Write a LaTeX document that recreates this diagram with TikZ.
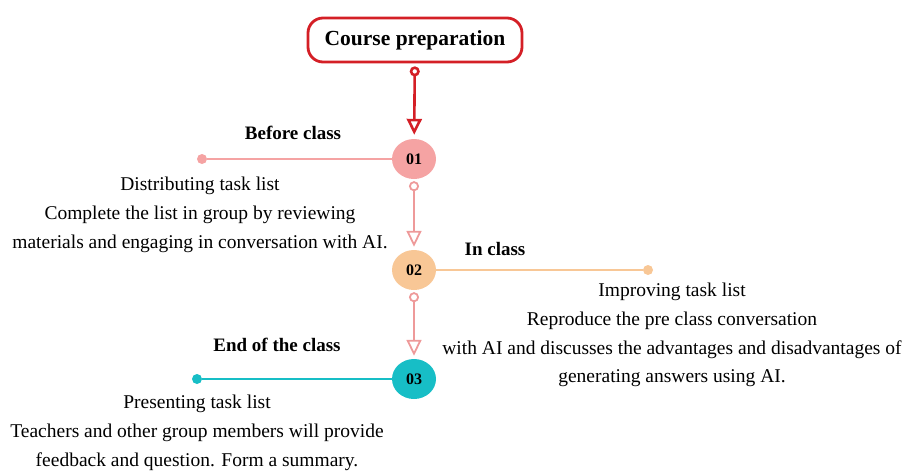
\documentclass[tikz,border=0pt]{standalone}
\usepackage{fontspec}
\setmainfont{Liberation Serif}
\usetikzlibrary{shapes, arrows.meta, positioning}

\definecolor{PrepRed}{HTML}{D41F26}
\definecolor{StepPink}{HTML}{F5A3A3}
\definecolor{LinePink}{HTML}{EE9A9A}
\definecolor{StepPeach}{HTML}{F8C796}
\definecolor{StepTeal}{HTML}{17BEC6}

\begin{document}
\begin{tikzpicture}[x=1pt,y=-1pt]
\tikzstyle{stepnode} = [ellipse, minimum width=44pt, minimum height=40pt, inner sep=0pt, font=\fontsize{16}{16}\selectfont\bfseries]
\tikzstyle{dot} = [circle, minimum size=10pt, inner sep=0pt]
\tikzstyle{arrow} = [line width=1.8pt, draw=LinePink, {Circle[open,length=10pt,width=10pt]}-{Triangle[open,length=16pt,width=15pt]}]
\tikzstyle{title} = [font=\fontsize{19}{23}\selectfont\bfseries]
\tikzstyle{desc} = [align=center, font=\fontsize{19.5}{28.8}\selectfont]

\useasboundingbox (0,0) rectangle (907,472);

\node (prep) at (415,40) [draw=PrepRed, line width=2.8pt, rounded corners=15pt, minimum width=214pt, minimum height=44pt, font=\fontsize{21.5}{24}\selectfont\bfseries] {Course preparation};

\node (step1) at (414,159) [stepnode, fill=StepPink] {01};
\node (step2) at (414,270) [stepnode, fill=StepPeach] {02};
\node (step3) at (414,379) [stepnode, fill=StepTeal] {03};

\node (dot1) at (202,159) [dot, fill=StepPink] {};
\node (dot2) at (648,270) [dot, fill=StepPeach] {};
\node (dot3) at (197,379) [dot, fill=StepTeal] {};

\node (before) at (293,133) [title] {Before class};
\node (inclass) at (495,249) [title] {In class};
\node (endclass) at (277,345) [title] {End of the class};

\node (text1) at (200,215) [desc] {Distributing task list\\Complete the list in group by reviewing\\materials and engaging in conversation with AI.};
\node (text2) at (672,335) [desc] {Improving task list\\Reproduce the pre class conversation\\with AI and discusses the advantages and disadvantages of\\generating answers using AI.};
\node (text3) at (197,433) [desc] {Presenting task list\\Teachers and other group members will provide\\feedback and question. Form a summary.};

\draw [line width=1.8pt, draw=StepPink] (step1) -- (dot1);
\draw [line width=1.8pt, draw=StepPeach] (step2) -- (dot2);
\draw [line width=1.8pt, draw=StepTeal] (step3) -- (dot3);

\draw [arrow, draw=PrepRed, line width=2.6pt, shorten <=3pt, shorten >=4pt] (prep) -- (step1);
\draw [arrow, shorten <=2pt, shorten >=3pt] (step1) -- (step2);
\draw [arrow, shorten <=2pt, shorten >=3pt] (step2) -- (step3);
\end{tikzpicture}
\end{document}
